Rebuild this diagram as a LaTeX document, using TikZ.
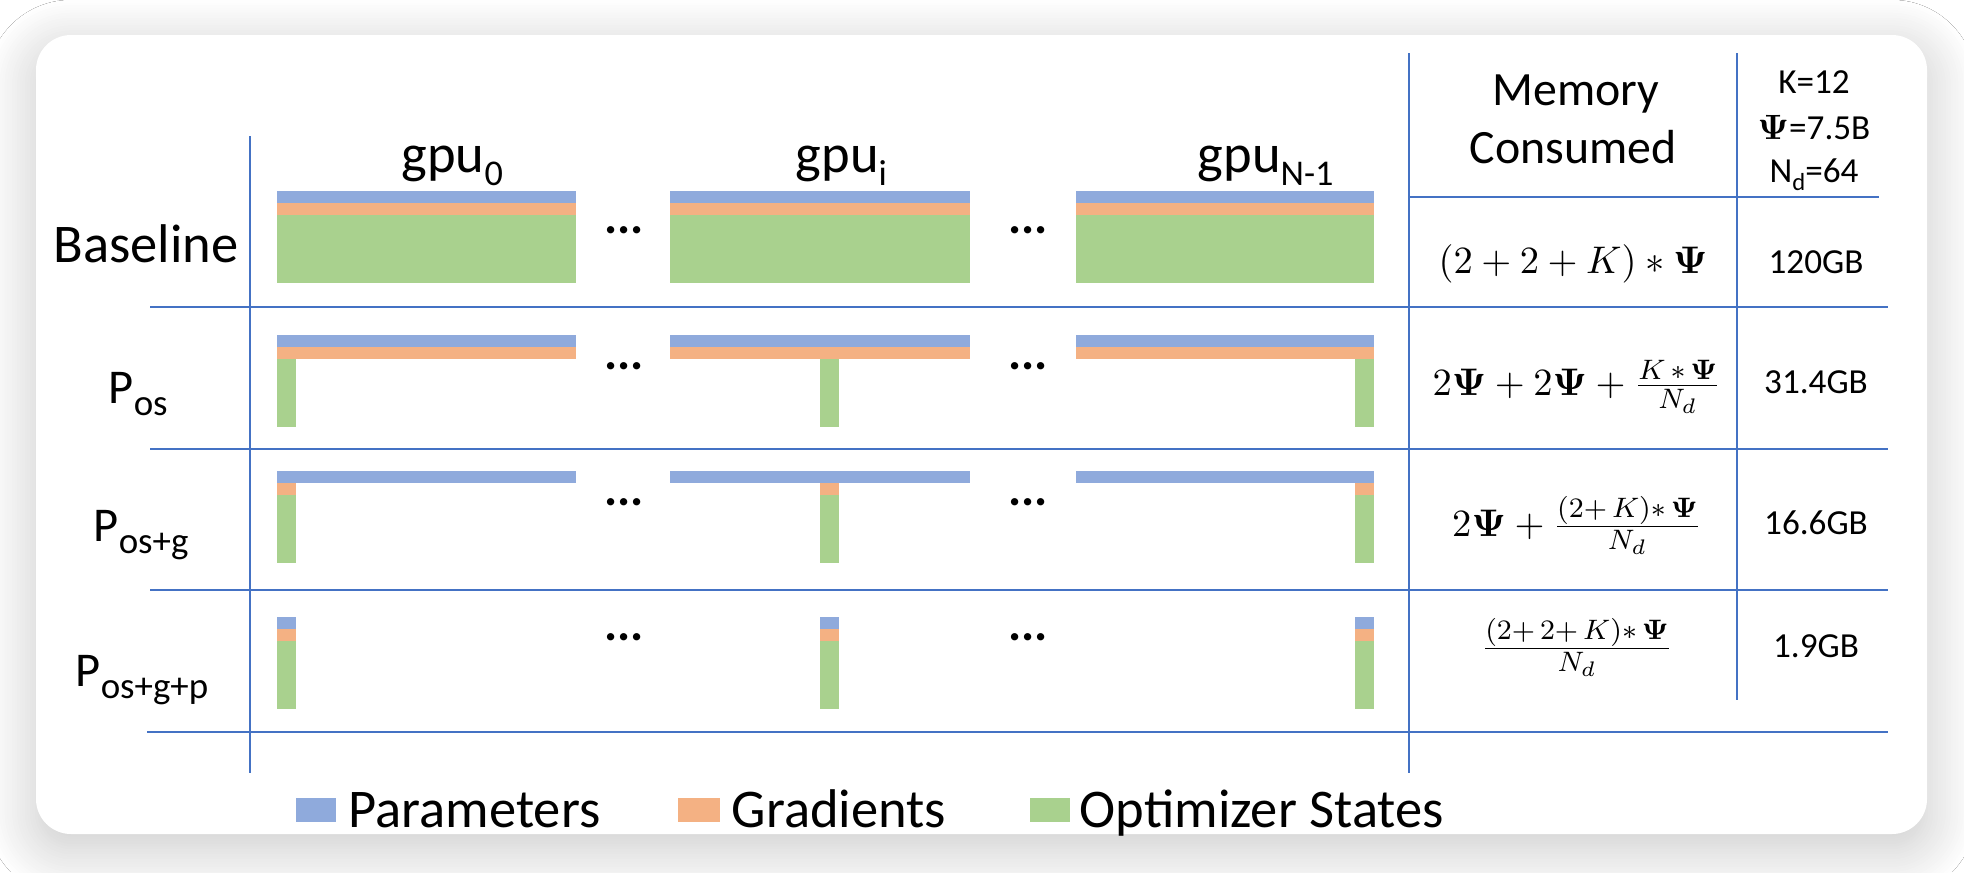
\documentclass[tikz,border=0pt]{standalone}
\usepackage{amsmath}
\usepackage[no-math]{fontspec}
\setmainfont{Carlito}
\usetikzlibrary{shadows.blur}

\definecolor{parblue}{HTML}{8FAADC}
\definecolor{gradorange}{HTML}{F4B183}
\definecolor{optgreen}{HTML}{A9D18E}
\definecolor{gridblue}{HTML}{4472C4}

\newcommand{\lowsub}[2]{\raisebox{-0.25em}{\fontsize{#1}{#1}\selectfont #2}}

\tikzset{
  grid/.style={draw=gridblue, line width=0.6pt},
  parbar/.style={fill=parblue},
  gradbar/.style={fill=gradorange},
  optbar/.style={fill=optgreen},
  big/.style={inner sep=0pt, font=\fontsize{15.5}{18}\selectfont},
  rowlbl/.style={inner sep=0pt, anchor=base west, font=\fontsize{13.8}{16}\selectfont},
  hdr/.style={inner sep=0pt, anchor=base, font=\fontsize{13.6}{16}\selectfont},
  small/.style={inner sep=0pt, anchor=base, font=\fontsize{10}{12}\selectfont},
  eqn/.style={inner sep=0pt, anchor=base, font=\fontsize{11.4}{13}\selectfont},
  dots/.style={inner sep=0pt, anchor=base, font=\fontsize{14}{14}\selectfont\bfseries},
}

\begin{document}
\begin{tikzpicture}[x=0.01cm, y=-0.01cm]
    \useasboundingbox (0,0) rectangle (1964,872);
    \fill[white] (0,0) rectangle (1964,872);
    \fill[white, rounded corners=0.35cm, blur shadow={shadow xshift=0pt, shadow yshift=-4pt, shadow blur radius=14pt, shadow blur steps=20, shadow opacity=22}] (36,35) rectangle (1927,834);

      % table lines
      \draw[grid] (250,136) -- (250,773);
      \draw[grid] (1409,53) -- (1409,773);
      \draw[grid] (1737,53) -- (1737,700);
      \draw[grid] (1409,197) -- (1879,197);
      \draw[grid] (150,307) -- (1888,307);
      \draw[grid] (150,449) -- (1888,449);
      \draw[grid] (150,590) -- (1888,590);
      \draw[grid] (147,732) -- (1888,732);

      \draw (401,172) node[big, anchor=base west](g0){gpu\lowsub{10.3}{0}};
      \draw (795,172) node[big, anchor=base west](gi){gpu\lowsub{10.3}{i}};
      \draw (1197,172) node[big, anchor=base west](gn){gpu\lowsub{10.3}{N-1}};

      \draw (53,262) node[big, anchor=base west](bl){Baseline};
      \draw (108,403) node[rowlbl](os){P\lowsub{10.5}{os}};
      \draw (93,541) node[rowlbl](osg){P\lowsub{10.5}{os+g}};
      \draw (75,686) node[rowlbl](osgp){P\lowsub{10.5}{os+g+p}};

      % baseline row
      \fill[parbar] (277,191) rectangle (576,203);
      \fill[gradbar] (277,203) rectangle (576,215);
      \fill[optbar] (277,215) rectangle (576,283);
      \fill[parbar] (670,191) rectangle (970,203);
      \fill[gradbar] (670,203) rectangle (970,215);
      \fill[optbar] (670,215) rectangle (970,283);
      \fill[parbar] (1076,191) rectangle (1374,203);
      \fill[gradbar] (1076,203) rectangle (1374,215);
      \fill[optbar] (1076,215) rectangle (1374,283);

      % P_os row
      \fill[parbar] (277,335) rectangle (576,347);
      \fill[gradbar] (277,347) rectangle (576,359);
      \fill[optbar] (277,359) rectangle (296,427);
      \fill[parbar] (670,335) rectangle (970,347);
      \fill[gradbar] (670,347) rectangle (970,359);
      \fill[optbar] (820,359) rectangle (839,427);
      \fill[parbar] (1076,335) rectangle (1374,347);
      \fill[gradbar] (1076,347) rectangle (1374,359);
      \fill[optbar] (1355,359) rectangle (1374,427);

      % P_os+g row
      \fill[parbar] (277,471) rectangle (576,483);
      \fill[gradbar] (277,483) rectangle (296,495);
      \fill[optbar] (277,495) rectangle (296,563);
      \fill[parbar] (670,471) rectangle (970,483);
      \fill[gradbar] (820,483) rectangle (839,495);
      \fill[optbar] (820,495) rectangle (839,563);
      \fill[parbar] (1076,471) rectangle (1374,483);
      \fill[gradbar] (1355,483) rectangle (1374,495);
      \fill[optbar] (1355,495) rectangle (1374,563);

      % P_os+g+p row
      \fill[parbar] (277,617) rectangle (296,629);
      \fill[gradbar] (277,629) rectangle (296,641);
      \fill[optbar] (277,641) rectangle (296,709);
      \fill[parbar] (820,617) rectangle (839,629);
      \fill[gradbar] (820,629) rectangle (839,641);
      \fill[optbar] (820,641) rectangle (839,709);
      \fill[parbar] (1355,617) rectangle (1374,629);
      \fill[gradbar] (1355,629) rectangle (1374,641);
      \fill[optbar] (1355,641) rectangle (1374,709);

      \draw (624,233) node[dots](d1a){...};
      \draw (1028,233) node[dots](d1b){...};
      \draw (624,369) node[dots](d2a){...};
      \draw (1028,369) node[dots](d2b){...};
      \draw (624,505) node[dots](d3a){...};
      \draw (1028,505) node[dots](d3b){...};
      \draw (624,640) node[dots](d4a){...};
      \draw (1028,640) node[dots](d4b){...};

      \draw (1576,105) node[hdr](mem){Memory};
      \draw (1573,163) node[hdr](con){Consumed};
      \draw (1814,93) node[small](k){K=12};
      \draw (1814,139) node[small](psi){$\mathbf{\Psi}$=7.5B};
      \draw (1814,182) node[small](nd){N\lowsub{7}{d}=64};

      \draw (1573,273) node[eqn](f1){$(2+2+K)\ast\mathbf{\Psi}$};
      \draw (1577,395) node[eqn](f2){$2\mathbf{\Psi}+2\mathbf{\Psi}+\frac{K\,\ast\,\mathbf{\Psi}}{N_d}$};
      \draw (1577,536) node[eqn](f3){$2\mathbf{\Psi}+\frac{(2+\,K)\ast\,\mathbf{\Psi}}{N_d}$};
      \draw (1577,658) node[eqn](f4){$\frac{(2+\,2+\,K)\ast\,\mathbf{\Psi}}{N_d}$};

      \draw (1816,273) node[small](m1){120GB};
      \draw (1816,393) node[small](m2){31.4GB};
      \draw (1816,534) node[small](m3){16.6GB};
      \draw (1816,657) node[small](m4){1.9GB};

      % legend
      \fill[parbar] (296,798) rectangle (336,822);
      \draw (348,827) node[big, anchor=base west](lp){Parameters};
      \fill[gradbar] (678,798) rectangle (720,822);
      \draw (731,827) node[big, anchor=base west](lg){Gradients};
      \fill[optbar] (1030,798) rectangle (1070,822);
      \draw (1079,827) node[big, anchor=base west](lo){Optimizer States};
  \end{tikzpicture}
\end{document}
